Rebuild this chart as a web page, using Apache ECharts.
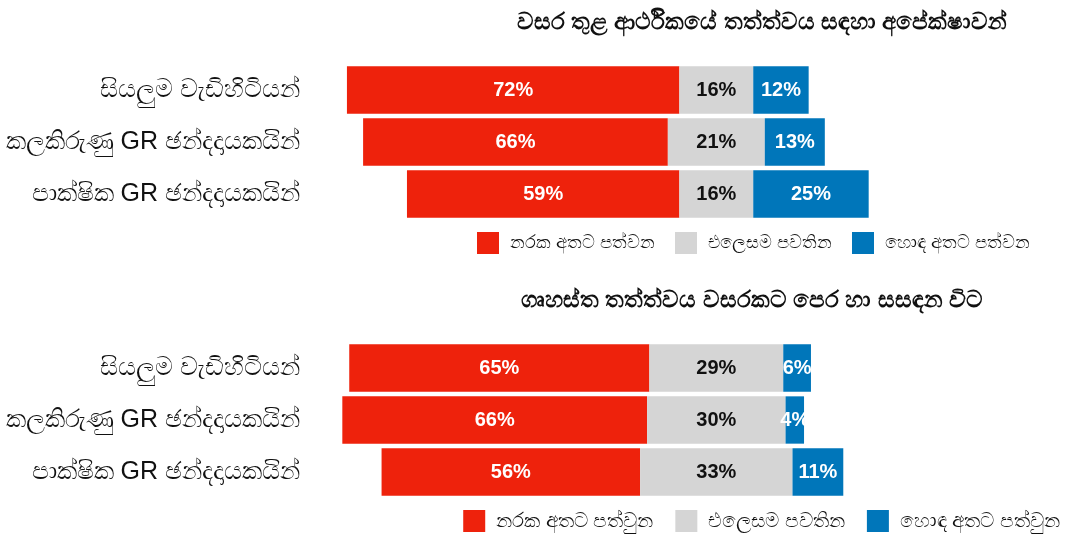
<!DOCTYPE html>
<html>
<head>
<meta charset="utf-8">
<script src="https://cdn.jsdelivr.net/npm/echarts@6/dist/echarts.min.js"></script>
<style>
  html, body { margin: 0; padding: 0; background: #fff; }
  #chart { width: 1086px; height: 535px; }
</style>
</head>
<body>
<div id="chart"></div>
<script>
// categories (same for both panels)
const groups = ['සියලුම වැඩිහිටියන්', 'කලකිරුණු GR ඡන්දදායකයින්', 'පාක්ෂික GR ඡන්දදායකයින්']

// top panel: expectations for the economy over the year
const topTitle = 'වසර තුළ ආර්ථිකයේ තත්ත්වය සඳහා අපේක්ෂාවන්'
const topNames = ['නරක අතට පත්වන', 'එලෙසම පවතින', 'හොඳ අතට පත්වන']
const topWorse = [72, 66, 59]
const topSame = [16, 21, 16]
const topBetter = [12, 13, 25]

// bottom panel: household situation compared with a year ago
const botTitle = 'ගෘහස්ත තත්ත්වය වසරකට පෙර හා සසඳන විට'
const botNames = ['නරක අතට පත්වුන', 'එලෙසම පවතින', 'හොඳ අතට පත්වුන']
const botWorse = [65, 66, 56]
const botSame = [29, 30, 33]
const botBetter = [6, 4, 11]

const CENTER = 88 // neutral bar is centred on this value
const colors = ['#ee220c', '#d5d5d5', '#0076ba']
const font = 'Liberation Sans, Arial, Noto Sans, sans-serif'

const chart = echarts.init(document.getElementById('chart'))

// build the 4 stacked series for one panel (invisible spacer + 3 segments)
const makeSeries = (idx, names, worse, same, better) => {
  const stack = 'p' + idx
  const spacer = worse.map((w, i) => CENTER - same[i] / 2 - w)
  const lbl = (color) => ({
    show: true,
    position: 'inside',
    color: color,
    fontFamily: font,
    fontWeight: 'bold',
    fontSize: 20,
    formatter: '{c}%'
  })
  return [
    {
      type: 'bar', stack, xAxisIndex: idx, yAxisIndex: idx, silent: true,
      data: spacer, itemStyle: { color: 'transparent' }, barCategoryGap: '9%'
    },
    {
      name: names[0], type: 'bar', stack, xAxisIndex: idx, yAxisIndex: idx,
      data: worse, itemStyle: { color: colors[0] }, label: lbl('#fff')
    },
    {
      name: names[1], type: 'bar', stack, xAxisIndex: idx, yAxisIndex: idx,
      data: same, itemStyle: { color: colors[1] }, label: lbl('#111')
    },
    {
      name: names[2], type: 'bar', stack, xAxisIndex: idx, yAxisIndex: idx,
      data: better, itemStyle: { color: colors[2] }, label: lbl('#fff')
    }
  ]
}

const xAxisCfg = (idx) => ({
  type: 'value', gridIndex: idx, min: 0, max: 128,
  show: false, splitLine: { show: false }
})
const yAxisCfg = (idx) => ({
  type: 'category', gridIndex: idx, data: groups, inverse: true,
  axisLine: { show: false }, axisTick: { show: false },
  axisLabel: { color: '#111', fontSize: 25, fontFamily: font, margin: 10 }
})
// legends are right-aligned like the reference
const legendCfg = (names, right, top, size, gap) => ({
  data: names, right, top, orient: 'horizontal', padding: 0,
  itemWidth: 22, itemHeight: 22, itemGap: gap, icon: 'rect',
  textStyle: { fontSize: size, color: '#111', fontFamily: font, padding: [0, 0, 0, 6] },
  selectedMode: false
})

const option = {
  animation: false,
  title: [
    {
      text: topTitle, left: 757, top: 6, textAlign: 'center',
      textStyle: { fontSize: 23, fontWeight: 'bold', color: '#111', fontFamily: font }
    },
    {
      text: botTitle, left: 747, top: 284, textAlign: 'center',
      textStyle: { fontSize: 23, fontWeight: 'bold', color: '#111', fontFamily: font }
    }
  ],
  legend: [legendCfg(topNames, 56, 232, 18, 20), legendCfg(botNames, 26, 510, 20, 22)],
  grid: [
    { left: 310, width: 591, top: 64, height: 156 },
    { left: 310, width: 591, top: 342, height: 156 }
  ],
  xAxis: [xAxisCfg(0), xAxisCfg(1)],
  yAxis: [yAxisCfg(0), yAxisCfg(1)],
  series: [
    ...makeSeries(0, topNames, topWorse, topSame, topBetter),
    ...makeSeries(1, botNames, botWorse, botSame, botBetter)
  ]
}

chart.setOption(option)
window.addEventListener('resize', () => chart.resize())
</script>
</body>
</html>
